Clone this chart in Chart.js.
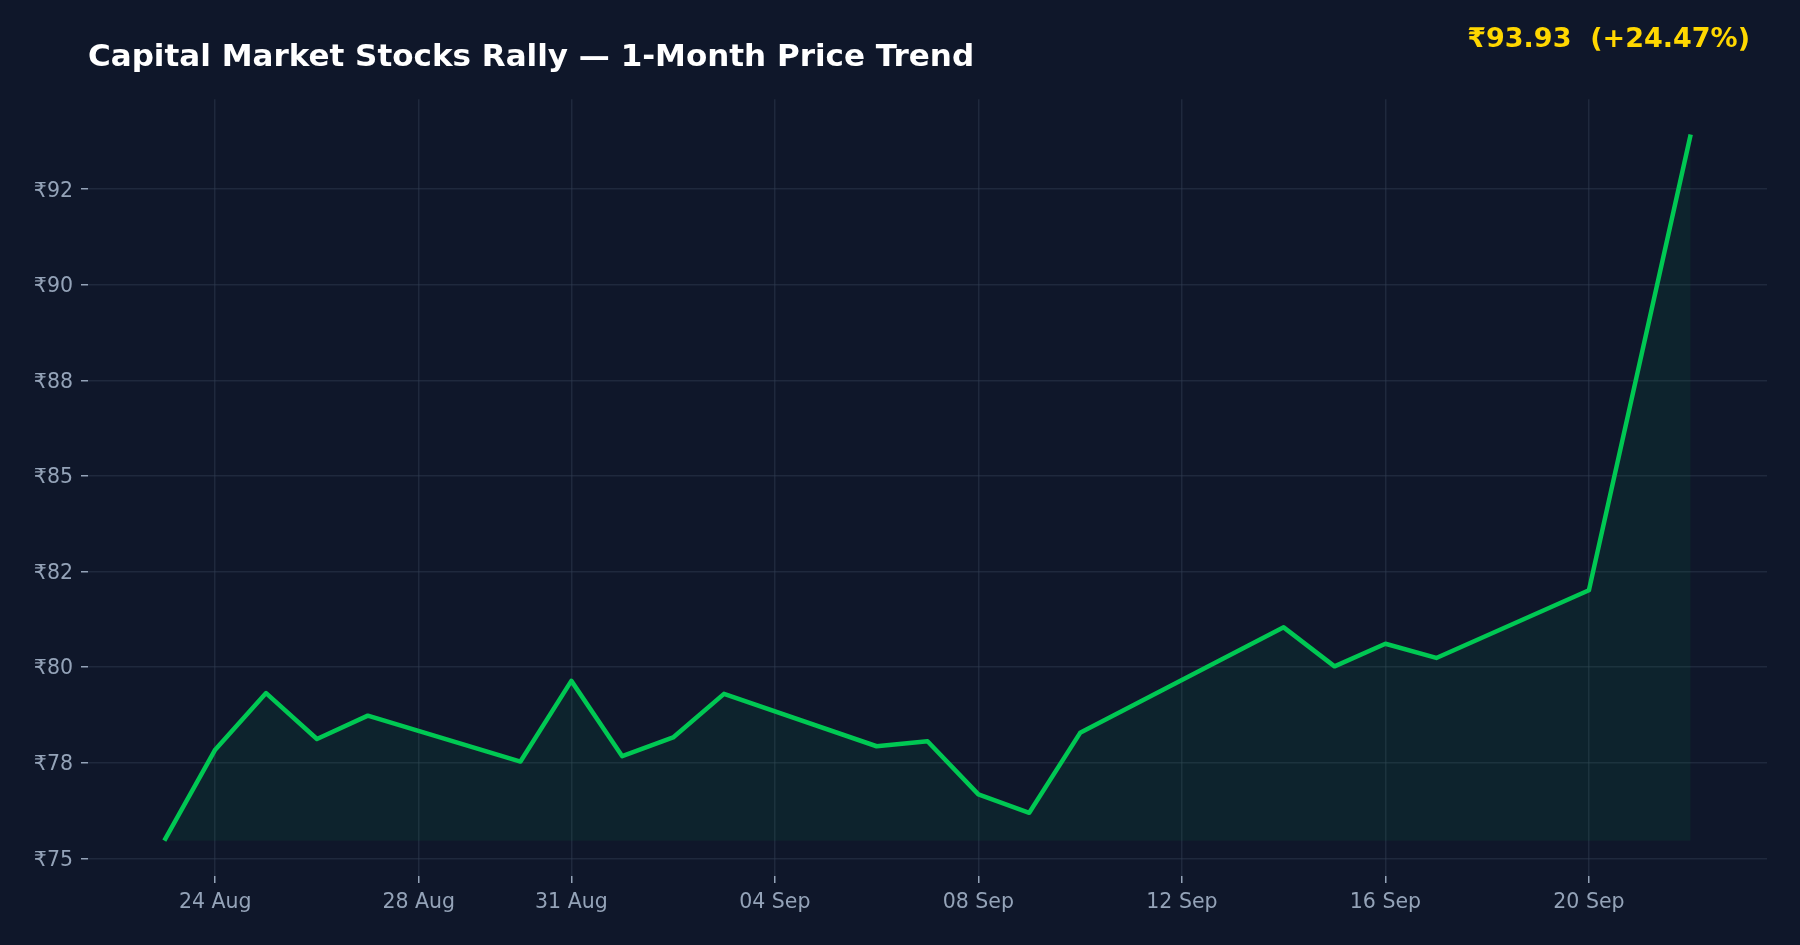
<!DOCTYPE html>
<html>
<head>
<meta charset="utf-8">
<script src="https://cdn.jsdelivr.net/npm/chart.js@4.4.1/dist/chart.umd.min.js"></script>
<style>
  html, body { margin: 0; padding: 0; background: #0f172a; overflow: hidden; }
  #wrap { width: 1800px; height: 945px; }
</style>
</head>
<body>
<div id="wrap"><canvas id="priceChart" width="1800" height="945"></canvas></div>
<script>
// Trading days and closing prices
const dates = ['2021-08-23', '2021-08-24', '2021-08-25', '2021-08-26', '2021-08-27',
               '2021-08-30', '2021-08-31', '2021-09-01', '2021-09-02', '2021-09-03',
               '2021-09-06', '2021-09-07', '2021-09-08', '2021-09-09', '2021-09-10',
               '2021-09-14', '2021-09-15', '2021-09-16', '2021-09-17', '2021-09-20',
               '2021-09-22'];
const prices = [75.46, 77.84, 79.32, 78.12, 78.73,
                77.53, 79.64, 77.67, 78.16, 79.30,
                77.93, 78.06, 76.67, 76.19, 78.28,
                81.04, 80.02, 80.61, 80.24, 82.01,
                93.93];

// Axis ticks
const xTickDates = ['2021-08-24', '2021-08-28', '2021-08-31', '2021-09-04',
                    '2021-09-08', '2021-09-12', '2021-09-16', '2021-09-20'];
const xTickLabels = ['24 Aug', '28 Aug', '31 Aug', '04 Sep', '08 Sep', '12 Sep', '16 Sep', '20 Sep'];
const yTicks = [75, 77.5, 80, 82.5, 85, 87.5, 90, 92.5];
const yTickLabels = ['₹75', '₹78', '₹80', '₹82', '₹85', '₹88', '₹90', '₹92'];

const chartTitle = 'Capital Market Stocks Rally — 1-Month Price Trend';
const headline = '₹93.93  (+24.47%)';

// days counted from the first trading day, so the x axis keeps calendar gaps
const DAY = 24 * 3600 * 1000;
const t0 = Date.parse(dates[0]);
const toDay = (d) => (Date.parse(d) - t0) / DAY;

const points = dates.map((d, i) => ({ x: toDay(d), y: prices[i] }));
const xTickDays = xTickDates.map(toDay);

// 5% margins on both axes
const xFirst = points[0].x, xLast = points[points.length - 1].x;
const xPad = (xLast - xFirst) * 0.05;
const yMin = Math.min(...prices), yMax = Math.max(...prices);
const yPad = (yMax - yMin) * 0.05;

const FONT = '"DejaVu Sans", "Liberation Sans", sans-serif';
const tickColor = '#94a3b8';
const gridColor = 'rgba(51, 65, 85, 0.45)';

// gold price text in the top right corner
const headlinePlugin = {
    id: 'headline',
    afterDraw(chart) {
        const ctx = chart.ctx;
        ctx.save();
        ctx.font = 'bold 27px ' + FONT;
        ctx.fillStyle = '#ffd700';
        ctx.textAlign = 'right';
        ctx.textBaseline = 'alphabetic';
        ctx.fillText(headline, 1750, 47);
        ctx.restore();
    }
};

new Chart(document.getElementById('priceChart'), {
    type: 'line',
    data: {
        datasets: [{
            data: points,
            borderColor: '#00c853',
            borderWidth: 4.5,
            borderJoinStyle: 'round',
            backgroundColor: 'rgba(0, 200, 83, 0.07)',
            fill: { value: yMin },
            tension: 0,
            pointRadius: 0,
            pointHoverRadius: 0
        }]
    },
    options: {
        responsive: false,
        animation: false,
        devicePixelRatio: 1,
        layout: { padding: { left: 0, right: 33, top: 0, bottom: 0 } },
        plugins: {
            legend: { display: false },
            tooltip: { enabled: false },
            title: {
                display: true,
                text: chartTitle,
                align: 'start',
                fullSize: false,
                color: '#ffffff',
                font: { family: FONT, size: 31, weight: 'bold' },
                padding: { top: 39, bottom: 23 }
            }
        },
        scales: {
            x: {
                type: 'linear',
                min: xFirst - xPad,
                max: xLast + xPad,
                afterBuildTicks: (scale) => {
                    scale.ticks = xTickDays.map(v => ({ value: v }));
                },
                afterFit: (scale) => { scale.height = 69; },
                ticks: {
                    autoSkip: false,
                    maxRotation: 0,
                    padding: 7,
                    color: tickColor,
                    font: { family: FONT, size: 20.5 },
                    callback: (value, index) => xTickLabels[index]
                },
                grid: {
                    color: gridColor,
                    lineWidth: 1.5,
                    tickColor: tickColor,
                    tickLength: 7,
                    tickWidth: 1.5
                },
                border: { display: false }
            },
            y: {
                min: yMin - yPad,
                max: yMax + yPad,
                afterBuildTicks: (scale) => {
                    scale.ticks = yTicks.map(v => ({ value: v }));
                },
                afterFit: (scale) => { scale.width = 88; },
                ticks: {
                    padding: 8,
                    labelOffset: 2,
                    color: tickColor,
                    font: { family: FONT, size: 20.5 },
                    callback: (value, index) => yTickLabels[index]
                },
                grid: {
                    color: gridColor,
                    lineWidth: 1.5,
                    tickColor: tickColor,
                    tickLength: 7,
                    tickWidth: 1.5
                },
                border: { display: false }
            }
        }
    },
    plugins: [headlinePlugin]
});
</script>
</body>
</html>
